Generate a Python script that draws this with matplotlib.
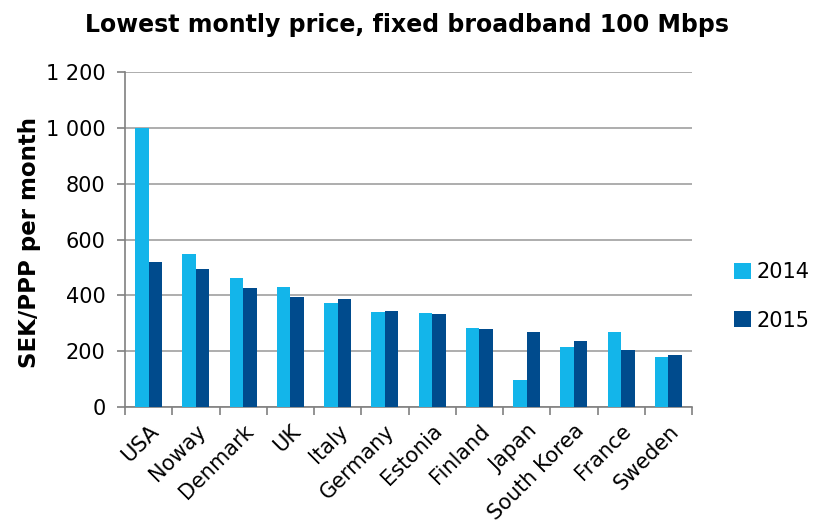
import matplotlib
matplotlib.use("Agg")
import matplotlib.pyplot as plt
import numpy as np

countries = ["USA", "Noway", "Denmark", "UK", "Italy", "Germany", "Estonia",
             "Finland", "Japan", "South Korea", "France", "Sweden"]
v2014 = [1000, 548, 462, 430, 373, 340, 335, 283, 95, 214, 267, 178]
v2015 = [518, 494, 426, 393, 387, 344, 333, 278, 269, 235, 204, 185]
yticks = [0, 200, 400, 600, 800, 1000, 1200]
ytick_labels = ["0", "200", "400", "600", "800", "1 000", "1 200"]

c14 = "#13B5EA"
c15 = "#004B8D"

fig = plt.figure(figsize=(8.15, 5.26), dpi=100)
ax = fig.add_axes([125/815, 1 - 407/526, (692-125)/815, (407-72)/526])

x = np.arange(len(countries))
w = 0.285
ax.bar(x - w/2, v2014, w, color=c14, label="2014", zorder=3)
ax.bar(x + w/2, v2015, w, color=c15, label="2015", zorder=3)

ax.set_xlim(-0.5, len(countries) - 0.5)
ax.set_ylim(0, 1200)
ax.set_yticks(yticks)
ax.set_yticklabels(ytick_labels, fontsize=15)
ax.yaxis.grid(True, color="#A0A0A0", linewidth=1.2, zorder=0)
ax.set_axisbelow(True)

ax.set_xticks(np.arange(-0.5, len(countries), 1.0), minor=False)
ax.set_xticklabels([])
ax.set_xticks(x, minor=True)
ax.set_xticklabels(countries, minor=True, rotation=45, ha="right",
                   rotation_mode="anchor", fontsize=15)
ax.tick_params(axis="x", which="minor", length=0, pad=10)
ax.tick_params(axis="x", which="major", length=6, color="#808080", width=1.2)
ax.tick_params(axis="y", length=6, color="#808080", width=1.2, direction="out", pad=8)

for s in ["top", "right"]:
    ax.spines[s].set_visible(False)
for s in ["left", "bottom"]:
    ax.spines[s].set_color("#808080")
    ax.spines[s].set_linewidth(1.2)

ax.set_ylabel("SEK/PPP per month", fontsize=16.5, fontweight="bold")
ax.yaxis.set_label_coords(-0.149, 0.49)
fig.text(0.499, 1 - 25/526, "Lowest montly price, fixed broadband 100 Mbps", ha="center",
         va="center", fontsize=17, fontweight="bold")

leg = ax.legend(loc="center left", bbox_to_anchor=(1.041, 0.33), frameon=False,
                fontsize=15, handlelength=0.8, handleheight=0.8, labelspacing=1.35,
                handletextpad=0.3)

fig.savefig("out.png", dpi=100)
